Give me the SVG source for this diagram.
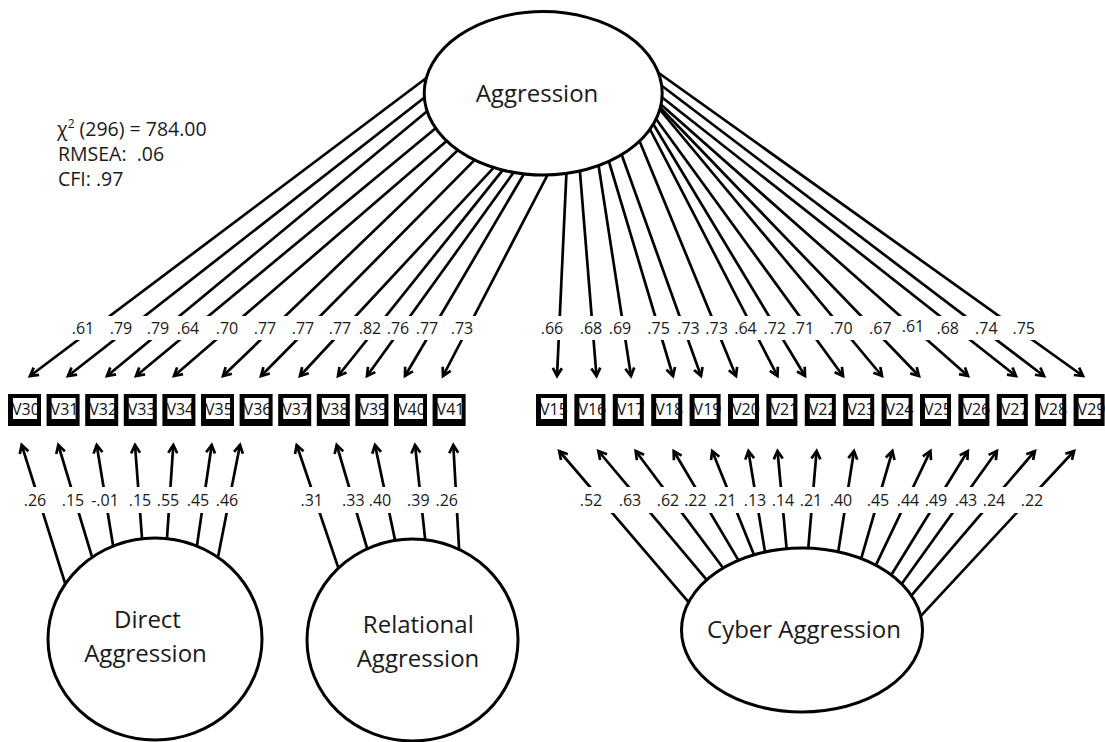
<svg xmlns="http://www.w3.org/2000/svg" xmlns:xlink="http://www.w3.org/1999/xlink" width="1105" height="742" viewBox="0 0 1105 742">
  <style>
    .c { stroke: #000; stroke-width: 2.7; fill: none; marker-end: url(#ah); }
    .lat { fill: #fff; stroke: #000; stroke-width: 3; }
    .latTxt { font-family: "Open Sans", "Noto Sans", sans-serif; font-size: 24px; fill: #1a1a1a; text-anchor: middle; }
    .lbl { font-family: "Open Sans", "Noto Sans", sans-serif; font-size: 16px; fill: #1a1a1a; text-anchor: middle; }
    .box { fill: #fff; }
    .frame { fill: #000; fill-rule: evenodd; }
    .boxTxt { font-family: "Open Sans", "Noto Sans", sans-serif; font-size: 16px; fill: #111; }
    .fit { font-family: "Open Sans", "Noto Sans", sans-serif; font-size: 19.5px; fill: #1a1a1a; white-space: pre; }
  </style>
  <defs>
    <marker id="ah" viewBox="0 0 12 12" refX="9" refY="6" markerWidth="12" markerHeight="12" markerUnits="userSpaceOnUse" orient="auto" overflow="visible">
      <path d="M1,1.5 L9,6 L1,10.5" fill="none" stroke="#000" stroke-width="2.7"/>
    </marker>
    <!-- blank bands where the loading values sit -->
    <mask id="gaps" maskUnits="userSpaceOnUse" x="0" y="0" width="1105" height="742">
      <rect width="1105" height="742" fill="#fff"/>
      <rect x="0" y="316" width="1105" height="24" fill="#000"/>
      <rect x="0" y="487" width="1105" height="26" fill="#000"/>
    </mask>
    <path id="frameL" class="frame" d="M0,0H33V32H0Z M5,4V25H29V4Z"/>
    <path id="frameR" class="frame" d="M0,0H31V32H0Z M5,4V25H27V4Z"/>
  </defs>

  <rect width="1105" height="742" fill="#fff"/>

  <!-- connectors -->
  <g id="connectors" mask="url(#gaps)">
    <!-- Aggression -> V30..V41 -->
    <line class="c" x1="463.6" y1="50" x2="30" y2="376"/>
    <line class="c" x1="472.5" y1="60" x2="68" y2="376"/>
    <line class="c" x1="477" y1="70" x2="107" y2="376"/>
    <line class="c" x1="494" y1="80" x2="136" y2="376"/>
    <line class="c" x1="505.8" y1="90" x2="174" y2="376"/>
    <line class="c" x1="510" y1="100" x2="223" y2="376"/>
    <line class="c" x1="524" y1="110" x2="261" y2="376"/>
    <line class="c" x1="538" y1="120" x2="300" y2="376"/>
    <line class="c" x1="534.8" y1="130" x2="338" y2="376"/>
    <line class="c" x1="537" y1="140" x2="367" y2="376"/>
    <line class="c" x1="538" y1="150" x2="405" y2="376"/>
    <line class="c" x1="560.5" y1="150" x2="443" y2="376"/>
    <!-- Aggression -> V15..V29 -->
    <line class="c" x1="567.5" y1="150" x2="557" y2="376"/>
    <line class="c" x1="578.2" y1="150" x2="596.5" y2="376"/>
    <line class="c" x1="596.2" y1="150" x2="631" y2="376"/>
    <line class="c" x1="605.5" y1="150" x2="673" y2="376"/>
    <line class="c" x1="616.4" y1="140" x2="701" y2="376"/>
    <line class="c" x1="635" y1="130" x2="736" y2="376"/>
    <line class="c" x1="645.2" y1="120" x2="777.5" y2="376"/>
    <line class="c" x1="647.8" y1="115" x2="805" y2="376"/>
    <line class="c" x1="649.5" y1="110" x2="843" y2="376"/>
    <line class="c" x1="651.8" y1="100" x2="882" y2="376"/>
    <line class="c" x1="648" y1="95" x2="919" y2="376"/>
    <line class="c" x1="644.5" y1="90" x2="968" y2="376"/>
    <line class="c" x1="640" y1="80" x2="1016" y2="376"/>
    <line class="c" x1="641" y1="70" x2="1044" y2="376"/>
    <line class="c" x1="633.5" y1="55" x2="1083" y2="376"/>
    <!-- Direct Aggression -> V30..V36 -->
    <line class="c" x1="68.6" y1="594.5" x2="21.7" y2="445"/>
    <line class="c" x1="95.5" y1="568.5" x2="58.3" y2="445"/>
    <line class="c" x1="114.9" y1="556.8" x2="96.7" y2="445"/>
    <line class="c" x1="142.9" y1="550" x2="135" y2="445"/>
    <line class="c" x1="166.2" y1="550" x2="173.3" y2="445"/>
    <line class="c" x1="195.3" y1="556.9" x2="211.7" y2="445"/>
    <line class="c" x1="215.7" y1="568.8" x2="240" y2="445"/>
    <!-- Relational Aggression -> V37..V41 -->
    <line class="c" x1="341.9" y1="578.4" x2="296.7" y2="445"/>
    <line class="c" x1="370.4" y1="559.5" x2="336.7" y2="445"/>
    <line class="c" x1="397.5" y1="551.7" x2="375" y2="445"/>
    <line class="c" x1="426.3" y1="549.9" x2="415" y2="445"/>
    <line class="c" x1="459.7" y1="560" x2="453.3" y2="445"/>
    <!-- Cyber Aggression -> V15..V29 -->
    <line class="c" x1="694.8" y1="609.3" x2="559.2" y2="451"/>
    <line class="c" x1="713.2" y1="587.6" x2="598.4" y2="451"/>
    <line class="c" x1="729.3" y1="576.3" x2="635.7" y2="451"/>
    <line class="c" x1="743.4" y1="568.6" x2="673.7" y2="451"/>
    <line class="c" x1="757.1" y1="562.6" x2="712.2" y2="451"/>
    <line class="c" x1="766.6" y1="561.6" x2="748.4" y2="451"/>
    <line class="c" x1="787.6" y1="559.3" x2="777.5" y2="451"/>
    <line class="c" x1="807.4" y1="558.3" x2="816.6" y2="451"/>
    <line class="c" x1="836.7" y1="561.6" x2="854" y2="451"/>
    <line class="c" x1="858.9" y1="566.3" x2="892.4" y2="451"/>
    <line class="c" x1="872.4" y1="572.3" x2="930.4" y2="451"/>
    <line class="c" x1="888" y1="580.2" x2="967.8" y2="451"/>
    <line class="c" x1="897.5" y1="589.8" x2="996.9" y2="451"/>
    <line class="c" x1="906.8" y1="600.9" x2="1034.9" y2="451"/>
    <line class="c" x1="914.9" y1="622.3" x2="1074.1" y2="451"/>
  </g>

  <!-- loading values -->
  <g id="loadings">
    <text class="lbl" x="83" y="334">.61</text>
    <text class="lbl" x="121" y="334">.79</text>
    <text class="lbl" x="158" y="334">.79</text>
    <text class="lbl" x="188" y="334">.64</text>
    <text class="lbl" x="227" y="334">.70</text>
    <text class="lbl" x="265" y="334">.77</text>
    <text class="lbl" x="303" y="334">.77</text>
    <text class="lbl" x="340" y="334">.77</text>
    <text class="lbl" x="370" y="334">.82</text>
    <text class="lbl" x="398" y="334">.76</text>
    <text class="lbl" x="427" y="334">.77</text>
    <text class="lbl" x="462" y="334">.73</text>

    <text class="lbl" x="552" y="334">.66</text>
    <text class="lbl" x="591" y="334">.68</text>
    <text class="lbl" x="620" y="334">.69</text>
    <text class="lbl" x="658.6" y="334">.75</text>
    <text class="lbl" x="688.5" y="334">.73</text>
    <text class="lbl" x="716.6" y="334">.73</text>
    <text class="lbl" x="745.5" y="334">.64</text>
    <text class="lbl" x="774.7" y="334">.72</text>
    <text class="lbl" x="802.8" y="334">.71</text>
    <text class="lbl" x="841.3" y="334">.70</text>
    <text class="lbl" x="880.3" y="334">.67</text>
    <text class="lbl" x="913" y="332">.61</text>
    <text class="lbl" x="947.7" y="334">.68</text>
    <text class="lbl" x="986.3" y="334">.74</text>
    <text class="lbl" x="1023.7" y="334">.75</text>

    <text class="lbl" x="35" y="506">.26</text>
    <text class="lbl" x="73" y="506">.15</text>
    <text class="lbl" x="105" y="506">-.01</text>
    <text class="lbl" x="140" y="506">.15</text>
    <text class="lbl" x="168" y="506">.55</text>
    <text class="lbl" x="198" y="506">.45</text>
    <text class="lbl" x="227" y="506">.46</text>

    <text class="lbl" x="311.7" y="506">.31</text>
    <text class="lbl" x="353.3" y="506">.33</text>
    <text class="lbl" x="380" y="506">.40</text>
    <text class="lbl" x="418.3" y="506">.39</text>
    <text class="lbl" x="446.7" y="506">.26</text>

    <text class="lbl" x="591" y="506">.52</text>
    <text class="lbl" x="630" y="506">.63</text>
    <text class="lbl" x="668" y="506">.62</text>
    <text class="lbl" x="695.4" y="506">.22</text>
    <text class="lbl" x="725.2" y="506">.21</text>
    <text class="lbl" x="755" y="506">.13</text>
    <text class="lbl" x="783" y="506">.14</text>
    <text class="lbl" x="811" y="506">.21</text>
    <text class="lbl" x="841" y="506">.40</text>
    <text class="lbl" x="878" y="506">.45</text>
    <text class="lbl" x="908" y="506">.44</text>
    <text class="lbl" x="936" y="506">.49</text>
    <text class="lbl" x="966" y="506">.43</text>
    <text class="lbl" x="994" y="506">.24</text>
    <text class="lbl" x="1032" y="506">.22</text>
  </g>

  <!-- latent variables -->
  <g id="aggression">
    <ellipse class="lat" cx="543.2" cy="93.3" rx="119" ry="81.7"/>
    <text class="latTxt" x="537" y="102">Aggression</text>
  </g>
  <g id="direct-aggression">
    <ellipse class="lat" cx="155" cy="639" rx="107" ry="101"/>
    <text class="latTxt" x="147.5" y="628">Direct</text>
    <text class="latTxt" x="145.5" y="662">Aggression</text>
  </g>
  <g id="relational-aggression">
    <ellipse class="lat" cx="412.5" cy="640" rx="105.5" ry="101"/>
    <text class="latTxt" x="418.3" y="633">Relational</text>
    <text class="latTxt" x="418" y="667">Aggression</text>
  </g>
  <g id="cyber-aggression">
    <ellipse class="lat" cx="802" cy="630" rx="120.5" ry="82"/>
    <text class="latTxt" x="804" y="638">Cyber Aggression</text>
  </g>

  <!-- observed items -->
  <g id="v30" transform="translate(8,394)"><rect class="box" width="33" height="32"/><text class="boxTxt" x="4" y="21">V30</text><use xlink:href="#frameL"/></g>
  <g id="v31" transform="translate(46.6,394)"><rect class="box" width="33" height="32"/><text class="boxTxt" x="4" y="21">V31</text><use xlink:href="#frameL"/></g>
  <g id="v32" transform="translate(85.2,394)"><rect class="box" width="33" height="32"/><text class="boxTxt" x="4" y="21">V32</text><use xlink:href="#frameL"/></g>
  <g id="v33" transform="translate(123.8,394)"><rect class="box" width="33" height="32"/><text class="boxTxt" x="4" y="21">V33</text><use xlink:href="#frameL"/></g>
  <g id="v34" transform="translate(162.4,394)"><rect class="box" width="33" height="32"/><text class="boxTxt" x="4" y="21">V34</text><use xlink:href="#frameL"/></g>
  <g id="v35" transform="translate(201,394)"><rect class="box" width="33" height="32"/><text class="boxTxt" x="4" y="21">V35</text><use xlink:href="#frameL"/></g>
  <g id="v36" transform="translate(239.6,394)"><rect class="box" width="33" height="32"/><text class="boxTxt" x="4" y="21">V36</text><use xlink:href="#frameL"/></g>
  <g id="v37" transform="translate(278.2,394)"><rect class="box" width="33" height="32"/><text class="boxTxt" x="4" y="21">V37</text><use xlink:href="#frameL"/></g>
  <g id="v38" transform="translate(316.8,394)"><rect class="box" width="33" height="32"/><text class="boxTxt" x="4" y="21">V38</text><use xlink:href="#frameL"/></g>
  <g id="v39" transform="translate(355.4,394)"><rect class="box" width="33" height="32"/><text class="boxTxt" x="4" y="21">V39</text><use xlink:href="#frameL"/></g>
  <g id="v40" transform="translate(394,394)"><rect class="box" width="33" height="32"/><text class="boxTxt" x="4" y="21">V40</text><use xlink:href="#frameL"/></g>
  <g id="v41" transform="translate(432.6,394)"><rect class="box" width="33" height="32"/><text class="boxTxt" x="4" y="21">V41</text><use xlink:href="#frameL"/></g>

  <g id="v15" transform="translate(536,394)"><rect class="box" width="31" height="32"/><text class="boxTxt" x="4" y="21">V15</text><use xlink:href="#frameR"/></g>
  <g id="v16" transform="translate(574.4,394)"><rect class="box" width="31" height="32"/><text class="boxTxt" x="4" y="21">V16</text><use xlink:href="#frameR"/></g>
  <g id="v17" transform="translate(612.8,394)"><rect class="box" width="31" height="32"/><text class="boxTxt" x="4" y="21">V17</text><use xlink:href="#frameR"/></g>
  <g id="v18" transform="translate(651.2,394)"><rect class="box" width="31" height="32"/><text class="boxTxt" x="4" y="21">V18</text><use xlink:href="#frameR"/></g>
  <g id="v19" transform="translate(689.6,394)"><rect class="box" width="31" height="32"/><text class="boxTxt" x="4" y="21">V19</text><use xlink:href="#frameR"/></g>
  <g id="v20" transform="translate(728,394)"><rect class="box" width="31" height="32"/><text class="boxTxt" x="4" y="21">V20</text><use xlink:href="#frameR"/></g>
  <g id="v21" transform="translate(766.4,394)"><rect class="box" width="31" height="32"/><text class="boxTxt" x="4" y="21">V21</text><use xlink:href="#frameR"/></g>
  <g id="v22" transform="translate(804.8,394)"><rect class="box" width="31" height="32"/><text class="boxTxt" x="4" y="21">V22</text><use xlink:href="#frameR"/></g>
  <g id="v23" transform="translate(843.2,394)"><rect class="box" width="31" height="32"/><text class="boxTxt" x="4" y="21">V23</text><use xlink:href="#frameR"/></g>
  <g id="v24" transform="translate(881.6,394)"><rect class="box" width="31" height="32"/><text class="boxTxt" x="4" y="21">V24</text><use xlink:href="#frameR"/></g>
  <g id="v25" transform="translate(920,394)"><rect class="box" width="31" height="32"/><text class="boxTxt" x="4" y="21">V25</text><use xlink:href="#frameR"/></g>
  <g id="v26" transform="translate(958.4,394)"><rect class="box" width="31" height="32"/><text class="boxTxt" x="4" y="21">V26</text><use xlink:href="#frameR"/></g>
  <g id="v27" transform="translate(996.8,394)"><rect class="box" width="31" height="32"/><text class="boxTxt" x="4" y="21">V27</text><use xlink:href="#frameR"/></g>
  <g id="v28" transform="translate(1035.2,394)"><rect class="box" width="31" height="32"/><text class="boxTxt" x="4" y="21">V28</text><use xlink:href="#frameR"/></g>
  <g id="v29" transform="translate(1073.6,394)"><rect class="box" width="31" height="32"/><text class="boxTxt" x="4" y="21">V29</text><use xlink:href="#frameR"/></g>

  <!-- model fit -->
  <g id="fit">
    <text class="fit" x="57" y="136">χ<tspan font-size="12" dy="-8">2</tspan><tspan dy="8"> (296) = 784.00</tspan></text>
    <text class="fit" x="58" y="161">RMSEA:  .06</text>
    <text class="fit" x="58" y="186">CFI: .97</text>
  </g>
</svg>
